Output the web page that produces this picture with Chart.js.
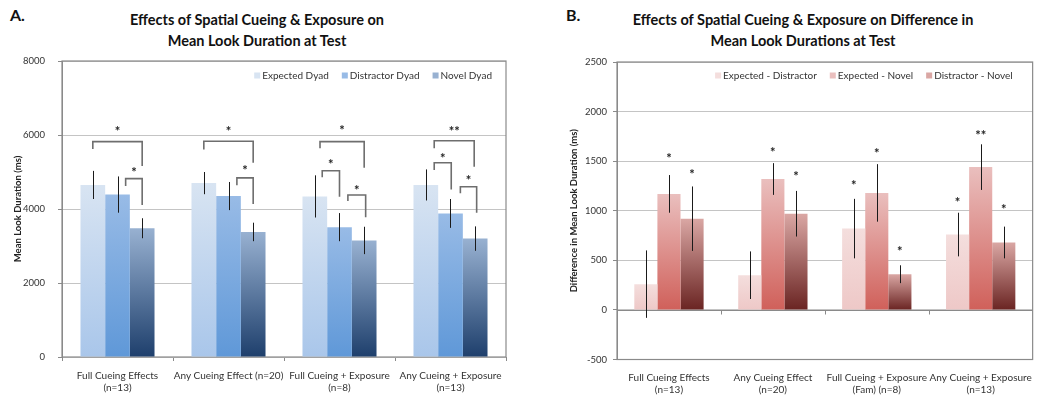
<!DOCTYPE html>
<html lang="en">
<head>
    <meta charset="UTF-8">
    <title>Spatial Cueing &amp; Exposure</title>
    <style>
        body{
            margin: 0;
            background: #fff;
            font-family: Lato, "Open Sans", sans-serif;
        }
        .painel{
            position: absolute;
            top: 0;
            height: 398px;
        }
        .titulo{
            position: absolute;
            top: 9px;
            font-weight: bold;
            font-size: 14.5px;
            line-height: 21px;
            text-align: center;
            color: #111;
        }
        .letra{
            position: absolute;
            top: 5px;
            font-weight: bold;
            font-size: 16px;
            color: #111;
        }
    </style>
</head>
<body>
    <div class="letra" style="left:10px">A.</div>
    <div class="titulo" style="left:0;width:514px">Effects of Spatial Cueing &amp; Exposure on<br>Mean Look Duration at Test</div>
    <div class="letra" style="left:566px">B.</div>
    <div class="titulo" style="left:560px;width:486px">Effects of Spatial Cueing &amp; Exposure on Difference in<br>Mean Look Durations at Test</div>

    <div class="painel" style="left:0;width:520px"><canvas id="graficoA"></canvas></div>
    <div class="painel" style="left:520px;width:524px"><canvas id="graficoB"></canvas></div>

    <script src="https://cdn.jsdelivr.net/npm/chart.js"></script>

<script>
  // grafico A: mean look duration per dyad
  const categoriasA = [["Full Cueing Effects", "(n=13)"], "Any Cueing Effect (n=20)", ["Full Cueing + Exposure", "(n=8)"], ["Any Cueing + Exposure", "(n=13)"]];
  const seriesA = ["Expected Dyad", "Distractor Dyad", "Novel Dyad"];
  const expectedDyad = [4650, 4700, 4340, 4650];
  const distractorDyad = [4390, 4350, 3510, 3880];
  const novelDyad = [3480, 3380, 3150, 3200];
  const erroExpected = [380, 300, 570, 420];
  const erroDistractor = [490, 380, 380, 390];
  const erroNovel = [270, 250, 370, 330];
  const ticksA = [0, 2000, 4000, 6000, 8000];

  // brackets: [group, from bar, to bar, top, left end, right end, label, label value]
  const colchetesA = [
    [0, 0, 2, 5820, 5620, 5160, "*", 6190],
    [0, 1.33, 2, 4820, 4620, 4110, "*", 5080],
    [1, 0, 2, 5830, 5610, 5250, "*", 6180],
    [1, 1.34, 2, 4840, 4640, 4135, "*", 5140],
    [2, 0.21, 2, 5820, 5640, 5115, "*", 6210],
    [2, 0.3, 1, 5035, 4855, 4330, "*", 5300],
    [2, 1.34, 2.06, 4380, 4215, 3775, "*", 4600],
    [3, 0.34, 1.96, 5845, 5640, 5145, "**", 6180],
    [3, 0.34, 1.03, 5250, 5055, 4530, "*", 5460],
    [3, 1.4, 2.06, 4600, 4425, 3900, "*", 4860]
  ];

  // grafico B: differences between dyads
  const categoriasB = [["Full Cueing Effects", "(n=13)"], ["Any Cueing Effect", "(n=20)"], ["Full Cueing + Exposure", "(Fam) (n=8)"], ["Any Cueing + Exposure", "(n=13)"]];
  const seriesB = ["Expected - Distractor", "Expected - Novel", "Distractor - Novel"];
  const expMenosDist = [260, 350, 820, 760];
  const expMenosNovel = [1170, 1320, 1180, 1440];
  const distMenosNovel = [920, 970, 360, 680];
  const erroExpDist = [340, 240, 300, 220];
  const erroExpNovel = [190, 160, 290, 230];
  const erroDistNovel = [325, 230, 90, 160];
  const ticksB = [-500, 0, 500, 1000, 1500, 2000, 2500];

  // stars: [group, bar, label, value]
  const estrelasB = [
    [0, 1, "*", 1560], [0, 2, "*", 1405],
    [1, 1, "*", 1620], [1, 2, "*", 1385],
    [2, 0, "*", 1285], [2, 1, "*", 1610], [2, 2, "*", 620],
    [3, 0, "*", 1120], [3, 1, "**", 1795], [3, 2, "*", 1045]
  ];

  const fonte = "Lato, 'Open Sans', sans-serif";

  function gradiente(cima, baixo){
    return function(ctx){
      const chart = ctx.chart;
      if (!chart.chartArea || ctx.parsed === undefined) return baixo;
      const y = chart.scales.y;
      const g = chart.ctx.createLinearGradient(0, y.getPixelForValue(ctx.parsed.y), 0, y.getPixelForValue(0));
      g.addColorStop(0, cima);
      g.addColorStop(1, baixo);
      return g;
    };
  }

  // frame, error bars, brackets, stars and the legend inside the plot
  const marcas = {
    id: 'marcas',
    beforeDatasetsDraw(chart, args, op){
      const c = chart.ctx, a = chart.chartArea, y = chart.scales.y;
      c.save();
      c.strokeStyle = '#8a8a8a';
      c.lineWidth = 1.2;
      c.strokeRect(a.left, a.top, a.right - a.left, a.bottom - a.top);
      if (op.zero){
        const y0 = Math.round(y.getPixelForValue(0)) + 0.5;
        c.lineWidth = 1;
        c.beginPath();
        c.moveTo(a.left, y0); c.lineTo(a.right, y0);
        const n = chart.data.labels.length, w = (a.right - a.left) / n;
        for (let i = 1; i < n; i++){
          const x = Math.round(a.left + i * w) + 0.5;
          c.moveTo(x, y0); c.lineTo(x, y0 + 4);
        }
        c.stroke();
      }
      c.restore();
    },
    afterDatasetsDraw(chart, args, op){
      const c = chart.ctx, a = chart.chartArea, y = chart.scales.y;
      c.save();
      // error bars
      c.strokeStyle = '#1a1a1a';
      c.lineWidth = 1;
      chart.data.datasets.forEach((ds, i) => {
        chart.getDatasetMeta(i).data.forEach((bar, j) => {
          const x = Math.round(bar.x) + 0.5;
          c.beginPath();
          c.moveTo(x, y.getPixelForValue(ds.data[j] + ds.erros[j]));
          c.lineTo(x, y.getPixelForValue(ds.data[j] - ds.erros[j]));
          c.stroke();
        });
      });

      const estrela = (txt, x, v) => {
        c.fillStyle = '#222';
        c.font = "bold 13px " + fonte;
        c.textAlign = 'center';
        c.textBaseline = 'alphabetic';
        c.fillText(txt, x, y.getPixelForValue(v) + 8);
      };

      const posX = (g, p) => {
        const b0 = chart.getDatasetMeta(0).data[g].x;
        const b1 = chart.getDatasetMeta(1).data[g].x;
        return b0 + p * (b1 - b0);
      };

      (op.colchetes || []).forEach(b => {
        const [g, de, ate, topo, fimE, fimD, txt, vTxt] = b;
        const x1 = posX(g, de), x2 = posX(g, ate);
        c.strokeStyle = '#6e6e6e';
        c.lineWidth = 1.6;
        c.beginPath();
        c.moveTo(x1, y.getPixelForValue(fimE));
        c.lineTo(x1, y.getPixelForValue(topo));
        c.lineTo(x2, y.getPixelForValue(topo));
        c.lineTo(x2, y.getPixelForValue(fimD));
        c.stroke();
        estrela(txt, (x1 + x2) / 2, vTxt);
      });

      (op.estrelas || []).forEach(s => {
        const [g, k, txt, v] = s;
        estrela(txt, chart.getDatasetMeta(k).data[g].x, v);
      });

      // legend
      c.font = "10px " + fonte;
      c.textBaseline = 'middle';
      c.textAlign = 'left';
      let x = a.right - op.legendaDireita;
      const ly = op.legendaY;
      const itens = chart.data.datasets.map(d => d).reverse();
      itens.forEach(ds => {
        const w = c.measureText(ds.label).width;
        x -= w;
        c.fillStyle = '#333';
        c.fillText(ds.label, x, ly);
        x -= 8;
        c.fillStyle = ds.corLegenda;
        c.fillRect(x, ly - 3.5, 6, 6);
        x -= 13;
      });
      c.restore();
    }
  };

  function eixos(ticks, larguraY, alturaX, padY, tituloY, padTituloY, tickX){
    return {
      x: {
        grid: { display: tickX, drawOnChartArea: false, drawTicks: tickX, tickLength: 4, tickColor: '#8a8a8a', offset: true },
        border: { display: false },
        ticks: { color: '#333', font: { family: fonte, size: 10 }, padding: tickX ? 9 : 12, maxRotation: 0, autoSkip: false },
        afterFit(s){ s.height = alturaX; }
      },
      y: {
        min: ticks[0],
        max: ticks[ticks.length - 1],
        afterBuildTicks(s){ s.ticks = ticks.map(v => ({ value: v })); },
        grid: { color: '#c4c4c4', tickColor: '#8a8a8a', tickLength: 4 },
        border: { color: '#8a8a8a' },
        ticks: { color: '#333', font: { family: fonte, size: 9.5 }, padding: padY, callback: v => String(v) },
        title: { display: true, text: tituloY, color: '#222', font: { family: fonte, size: 9.5, weight: 'bold' }, padding: { top: padTituloY, bottom: 0 } },
        afterFit(s){ s.width = larguraY; }
      }
    };
  }

  function conjunto(label, dados, erros, cima, baixo){
    return {
      label: label,
      data: dados,
      erros: erros,
      corLegenda: cima,
      backgroundColor: gradiente(cima, baixo),
      borderWidth: 0,
      barPercentage: 1,
      categoryPercentage: 0.667
    };
  }

  const comum = {
    responsive: true,
    maintainAspectRatio: false,
    animation: false,
    events: [],
    plugins: { legend: { display: false }, tooltip: { enabled: false } }
  };

  const graficoA = new Chart(document.getElementById('graficoA'), {
    type: 'bar',
    data: {
      labels: categoriasA,
      datasets: [
        conjunto(seriesA[0], expectedDyad, erroExpected, '#d8e4f2', '#a9c6ea'),
        conjunto(seriesA[1], distractorDyad, erroDistractor, '#98bbe6', '#5f98d8'),
        conjunto(seriesA[2], novelDyad, erroNovel, '#98b1d1', '#1e3f6c')
      ]
    },
    options: Object.assign({}, comum, {
      layout: { padding: { top: 61, right: 14, left: 0, bottom: 0 } },
      scales: eixos(ticksA, 62, 41, 13, 'Mean Look Duration (ms)', 12, true),
      plugins: Object.assign({}, comum.plugins, {
        marcas: { colchetes: colchetesA, legendaDireita: 14, legendaY: 76 }
      })
    }),
    plugins: [marcas]
  });

  const graficoB = new Chart(document.getElementById('graficoB'), {
    type: 'bar',
    data: {
      labels: categoriasB,
      datasets: [
        conjunto(seriesB[0], expMenosDist, erroExpDist, '#f4dedd', '#eec8c7'),
        conjunto(seriesB[1], expMenosNovel, erroExpNovel, '#eabfbe', '#d0605a'),
        conjunto(seriesB[2], distMenosNovel, erroDistNovel, '#daa7a4', '#6a2422')
      ]
    },
    options: Object.assign({}, comum, {
      layout: { padding: { top: 62, right: 2, left: 0, bottom: 0 } },
      scales: eixos(ticksB, 97, 38.5, 6, 'Difference in Mean Look Duration (ms)', 48, false),
      plugins: Object.assign({}, comum.plugins, {
        marcas: { estrelas: estrelasB, zero: true, legendaDireita: 20, legendaY: 76 }
      })
    }),
    plugins: [marcas]
  });
</script>
</body>
</html>
